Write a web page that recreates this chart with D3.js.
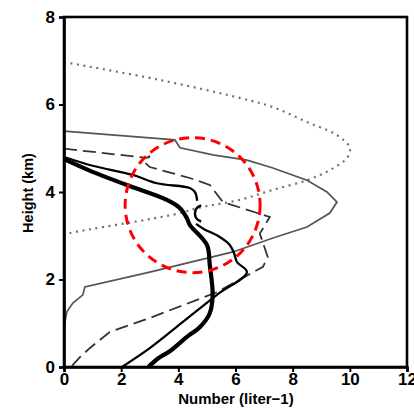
<!DOCTYPE html>
<html><head><meta charset="utf-8">
<script src="https://cdn.jsdelivr.net/npm/d3@7"></script>
<style>body{margin:0;background:#fff}svg{display:block}</style>
</head><body>
<svg id="c" width="414" height="410"></svg>
<script>
// ---- data (number in liter^-1, height in km) ----
const xTicks = [0, 2, 4, 6, 8, 10, 12];
const yTicks = [0, 2, 4, 6, 8];
const xTitle = "Number (liter\u22121)";
const yTitle = "Height (km)";

const dottedN = [0, 3.36, 6.15, 7.31, 8.5, 9.55, 10.0, 9.9, 9.3, 8.5, 7.31, 6.15, 4.65, 3.95, 0.2, 0];
const dottedH = [6.97, 6.56, 6.15, 5.94, 5.6, 5.3, 5.01, 4.78, 4.5, 4.27, 4.05, 3.82, 3.63, 3.5, 3.06, 3.02];

const grayN = [0, 3.88, 4.06, 5.21, 6.4, 7.31, 8.5, 9.2, 9.55, 9.3, 8.5, 7.31, 5.91, 3.0, 0.73, 0.66, 0.31, 0.1, 0.03, 0];
const grayH = [5.39, 5.19, 5.01, 4.85, 4.73, 4.55, 4.27, 4.0, 3.77, 3.52, 3.2, 2.95, 2.63, 2.17, 1.83, 1.65, 1.46, 1.26, 1.03, 0.85];

const dashN = [0, 2.9, 3.0, 2.85, 3.0, 4.4, 5.1, 5.56, 7.2, 6.85, 7.13, 6.96, 5.35, 3.0, 1.6, 0.9, 0.55, 0.31, 0.25];
const dashH = [4.99, 4.78, 4.82, 4.66, 4.57, 4.32, 4.16, 3.77, 3.43, 3.05, 2.51, 2.29, 1.71, 1.12, 0.8, 0.43, 0.22, 0.05, 0];

const thinUpperN = [0, 1.0, 2.41, 3.25, 4.4, 4.58, 4.66];
const thinUpperH = [4.8, 4.6, 4.39, 4.2, 4.09, 4.0, 3.8];
const thinLowerN = [4.62, 4.9, 5.38, 5.8, 5.95, 6.05, 6.4, 5.35, 4.16, 3.0, 2.03];
const thinLowerH = [3.27, 3.15, 3.0, 2.79, 2.6, 2.4, 2.17, 1.65, 1.03, 0.43, 0];
const markN = [4.87];   // small "C" mark centre
const markH = [3.51];

const thickN = [0, 1.0, 2.2, 3.6, 4.06, 4.3, 4.4, 5.0, 5.1, 5.2, 5.1, 4.75, 4.3, 3.7, 3.3, 2.95];
const thickH = [4.75, 4.46, 4.16, 3.82, 3.63, 3.4, 3.25, 2.79, 2.33, 1.65, 1.23, 0.91, 0.69, 0.36, 0.2, 0];

const circleN = [4.5];  // highlight circle centre (data units)
const circleH = [3.7];

// ---- drawing ----
const svg = d3.select("#c");
const L = 64, R = 407, T = 17, B = 367;
const x = d3.scaleLinear().domain([0, 12]).range([L, R]);
const y = d3.scaleLinear().domain([0, 8]).range([B, T]);
const zip = (a, b) => a.map((v, i) => [v, b[i]]);
const line = d3.line().x(d => x(d[0])).y(d => y(d[1]));
const smooth = d3.line().x(d => x(d[0])).y(d => y(d[1])).curve(d3.curveCatmullRom.alpha(0.5));

svg.append("path").attr("d", smooth(zip(dottedN, dottedH)))
  .attr("fill", "none").attr("stroke", "#707070").attr("stroke-width", 2.2)
  .attr("stroke-dasharray", "2,4.6");
svg.append("path").attr("d", line(zip(grayN, grayH)))
  .attr("fill", "none").attr("stroke", "#555").attr("stroke-width", 1.7);
svg.append("path").attr("d", line(zip(dashN, dashH)))
  .attr("fill", "none").attr("stroke", "#333").attr("stroke-width", 1.8)
  .attr("stroke-dasharray", "13,6");
svg.append("path").attr("d", smooth(zip(thinUpperN, thinUpperH)))
  .attr("fill", "none").attr("stroke", "#000").attr("stroke-width", 2.3);
svg.append("path").attr("d", smooth(zip(thinLowerN, thinLowerH)))
  .attr("fill", "none").attr("stroke", "#000").attr("stroke-width", 2.3);
svg.append("path").attr("d", smooth(zip(thickN, thickH)))
  .attr("fill", "none").attr("stroke", "#000").attr("stroke-width", 4.2)
  .attr("stroke-linejoin", "round");

// "C" mark
markN.forEach((m, i) => {
  const arc = d3.arc().innerRadius(7.5).outerRadius(10).startAngle(-Math.PI * 0.85).endAngle(-Math.PI * 0.15);
  svg.append("path").attr("d", d3.arc().innerRadius(7).outerRadius(9.5)
      .startAngle(-Math.PI * 0.92).endAngle(-Math.PI * 0.08)())
    .attr("transform", `translate(${x(m)},${y(markH[i])})`)
    .attr("fill", "#000");
});

// red dashed circle
svg.append("circle").attr("cx", x(circleN[0])).attr("cy", y(circleH[0])).attr("r", 67.5)
  .attr("fill", "none").attr("stroke", "#f00").attr("stroke-width", 3)
  .attr("stroke-dasharray", "10,6");

// frame
svg.append("rect").attr("x", L).attr("y", T).attr("width", R - L).attr("height", B - T)
  .attr("fill", "none").attr("stroke", "#000").attr("stroke-width", 2.6);

// axes
const fam = "'Liberation Sans', Arial, sans-serif";
const gx = svg.append("g").attr("transform", `translate(0,${B})`)
  .call(d3.axisBottom(x).tickValues(xTicks).tickSize(5).tickPadding(1).tickFormat(d3.format("d")));
const gy = svg.append("g").attr("transform", `translate(${L},0)`)
  .call(d3.axisLeft(y).tickValues(yTicks).tickSize(5).tickPadding(4).tickFormat(d3.format("d")));
[gx, gy].forEach(g => {
  g.select(".domain").attr("stroke-width", 2.6);
  g.selectAll(".tick line").attr("stroke-width", 2);
  g.selectAll("text").attr("font-family", fam).attr("font-weight", "bold")
    .attr("font-size", 17).attr("fill", "#000");
});
svg.append("text").attr("x", 236).attr("y", 404).attr("text-anchor", "middle")
  .attr("font-family", fam).attr("font-weight", "bold").attr("font-size", 15).text(xTitle);
svg.append("text").attr("transform", "translate(33,193) rotate(-90)").attr("text-anchor", "middle")
  .attr("font-family", fam).attr("font-weight", "bold").attr("font-size", 14.5).text(yTitle);
</script>
</body></html>
